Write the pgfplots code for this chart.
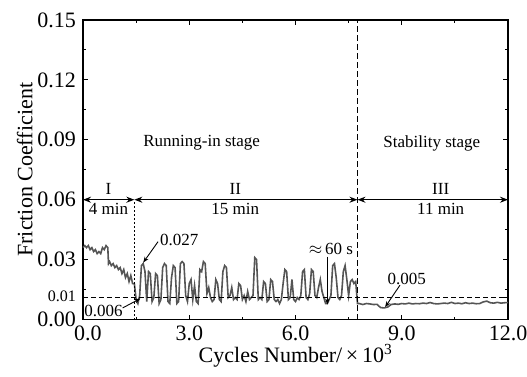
\documentclass[border=0pt]{standalone}
\usepackage{pgfplots}
\pgfplotsset{compat=1.18}
\usepackage{fontspec}
\setmainfont{Liberation Serif}
\usetikzlibrary{arrows.meta}
\definecolor{dataline}{HTML}{555555}
\begin{document}
\begin{tikzpicture}
\useasboundingbox (-83pt,-56.5pt) rectangle (444pt,319.5pt);
\begin{axis}[
  at={(0pt,0pt)}, anchor=south west,
  scale only axis, width=425pt, height=299.5pt,
  xmin=0, xmax=12, ymin=0, ymax=0.15,
  xtick={0,3,6,9,12}, ytick={0,0.03,0.06,0.09,0.12,0.15},
  xticklabels={\hspace*{10pt}0.0, 3.0, 6.0, 9.0, 12.0},
  minor x tick num=1, minor y tick num=1,
  extra y ticks={0.011}, extra y tick labels={0.01},
  extra y tick style={yticklabel style={/tikz/font=\fontsize{16}{17}\selectfont, /tikz/yshift=1.5pt}},
  major tick length=5pt, minor tick length=3pt,
  axis line style={line width=1.2pt}, tick style={line width=1pt, black},
  /pgf/number format/assume math mode=true,
  xticklabel style={/tikz/inner ysep=0pt, /tikz/yshift=-6.5pt},
  yticklabel style={/tikz/inner ysep=0pt, /tikz/inner xsep=3pt, /tikz/xshift=-4pt, /pgf/number format/fixed, /pgf/number format/fixed zerofill, /pgf/number format/precision=2},
  tick label style={/tikz/font=\fontsize{22}{23}\selectfont},
  scaled y ticks=false,
  xlabel={Cycles Number/\,×\,10\textsuperscript{3}},
  ylabel={Friction Coefficient},
  every axis x label/.style={at={(axis description cs:0.5,-0.1219)}, anchor=center, inner sep=0pt, font=\fontsize{22}{26}\selectfont},
  every axis y label/.style={at={(axis description cs:-0.137,0.5)}, rotate=90, anchor=center, font=\fontsize{22}{26}\selectfont},
  clip=false,
]
\addplot[dataline, line width=1.6pt] table {
x y
0.00 0.036
0.05 0.037
0.10 0.036
0.15 0.037
0.20 0.035
0.25 0.036
0.30 0.034
0.35 0.035
0.40 0.033
0.45 0.034
0.50 0.033
0.55 0.036
0.60 0.035
0.65 0.037
0.70 0.036
0.72 0.028
0.75 0.029
0.80 0.027
0.85 0.028
0.90 0.026
0.95 0.027
1.00 0.025
1.05 0.026
1.10 0.023
1.15 0.025
1.20 0.021
1.25 0.023
1.30 0.019
1.35 0.022
1.40 0.018
1.45 0.018
1.50 0.010
1.55 0.008
1.60 0.012
1.65 0.027
1.70 0.028
1.75 0.024
1.80 0.009
1.85 0.024
1.90 0.023
1.95 0.009
2.00 0.011
2.05 0.023
2.10 0.022
2.15 0.008
2.20 0.010
2.25 0.026
2.30 0.028
2.35 0.027
2.40 0.009
2.45 0.008
2.50 0.021
2.55 0.027
2.60 0.026
2.65 0.008
2.70 0.009
2.75 0.028
2.80 0.029
2.85 0.028
2.90 0.012
2.95 0.009
3.00 0.018
3.05 0.020
3.10 0.010
3.15 0.017
3.20 0.009
3.25 0.008
3.30 0.025
3.35 0.024
3.40 0.029
3.45 0.028
3.50 0.013
3.55 0.016
3.60 0.011
3.65 0.009
3.70 0.010
3.75 0.020
3.80 0.018
3.85 0.010
3.90 0.009
3.95 0.024
4.00 0.027
4.05 0.026
4.10 0.011
4.15 0.012
4.20 0.016
4.25 0.010
4.30 0.011
4.35 0.010
4.40 0.018
4.45 0.017
4.50 0.010
4.55 0.012
4.60 0.009
4.65 0.014
4.70 0.010
4.75 0.011
4.80 0.012
4.85 0.031
4.90 0.030
4.95 0.010
5.00 0.011
5.05 0.010
5.10 0.019
5.15 0.018
5.20 0.009
5.25 0.010
5.30 0.020
5.35 0.019
5.40 0.010
5.45 0.009
5.50 0.010
5.55 0.008
5.60 0.010
5.65 0.018
5.70 0.025
5.75 0.024
5.80 0.010
5.85 0.011
5.90 0.020
5.95 0.010
6.00 0.009
6.05 0.011
6.10 0.010
6.15 0.012
6.20 0.024
6.25 0.025
6.30 0.011
6.35 0.010
6.40 0.013
6.45 0.025
6.50 0.024
6.55 0.012
6.60 0.011
6.65 0.016
6.70 0.020
6.75 0.014
6.80 0.011
6.85 0.008
6.90 0.008
6.95 0.010
7.00 0.012
7.05 0.027
7.10 0.028
7.15 0.021
7.20 0.011
7.25 0.010
7.30 0.012
7.35 0.024
7.40 0.027
7.45 0.020
7.50 0.012
7.55 0.019
7.60 0.020
7.65 0.018
7.70 0.019
7.75 0.008
7.80 0.0080
7.90 0.0075
8.00 0.0080
8.10 0.0078
8.20 0.0075
8.30 0.0076
8.40 0.0060
8.50 0.0058
8.60 0.0062
8.70 0.0075
8.80 0.0078
8.90 0.0076
9.00 0.0080
9.10 0.0078
9.20 0.0082
9.30 0.0078
9.40 0.0080
9.50 0.0079
9.60 0.0082
9.70 0.0080
9.80 0.0085
9.90 0.0080
10.00 0.0078
10.10 0.0080
10.20 0.0082
10.30 0.0080
10.40 0.0086
10.50 0.0080
10.60 0.0082
10.70 0.0079
10.80 0.0084
10.90 0.0080
11.00 0.0082
11.10 0.0079
11.20 0.0080
11.30 0.0088
11.40 0.0092
11.50 0.0084
11.60 0.0082
11.70 0.0086
11.80 0.0082
11.90 0.0084
12.00 0.0085
};
% reference lines
\draw[line width=0.8pt, dash pattern=on 5pt off 3pt] (axis cs:0,0.011) -- (axis cs:12,0.011);
\draw[line width=0.8pt, dash pattern=on 2pt off 2pt] (axis cs:1.45,0) -- (axis cs:1.45,0.06);
\draw[line width=1.3pt, dash pattern=on 6pt off 3pt] (axis cs:7.75,0) -- (axis cs:7.75,0.15);
% stage arrows
\draw[{Stealth[length=8pt,width=6pt]}-{Stealth[length=8pt,width=6pt]}, line width=1.2pt] (axis cs:0,0.06) -- (axis cs:1.45,0.06);
\draw[{Stealth[length=8pt,width=6pt]}-{Stealth[length=8pt,width=6pt]}, line width=1.2pt] (axis cs:1.45,0.06) -- (axis cs:7.75,0.06);
\draw[{Stealth[length=8pt,width=6pt]}-{Stealth[length=8pt,width=6pt]}, line width=1.2pt] (axis cs:7.75,0.06) -- (axis cs:12,0.06);
\begin{scope}[every node/.style={font=\fontsize{17}{20}\selectfont, inner sep=0pt}]
\node at (axis cs:0.72,0.0655) {I};
\node at (axis cs:0.72,0.0555) {4 min};
\node at (axis cs:4.3,0.0655) {II};
\node at (axis cs:4.3,0.0555) {15 min};
\node at (axis cs:10.1,0.0655) {III};
\node at (axis cs:10.1,0.0555) {11 min};
\node at (axis cs:3.35,0.0883) {Running-in stage};
\node at (axis cs:9.85,0.0883) {Stability stage};
\node at (axis cs:2.72,0.0400) {0.027};
\node at (axis cs:0.58,0.0043) {0.006};
\node at (axis cs:7.0,0.0352) {$\approx$\,60 s};
\node at (axis cs:9.14,0.0205) {0.005};
\end{scope}
\draw[-{Stealth[length=6pt]}, line width=0.9pt] (axis cs:2.12,0.0390) -- (axis cs:1.70,0.0285);
\draw[-{Stealth[length=6pt]}, line width=0.9pt] (axis cs:1.12,0.0058) -- (axis cs:1.62,0.0105);
\draw[-{Stealth[length=6pt]}, line width=0.9pt] (axis cs:6.9,0.0315) -- (axis cs:6.9,0.0075);
\draw[-{Stealth[length=6pt]}, line width=0.9pt] (axis cs:8.95,0.0172) -- (axis cs:8.53,0.0062);
\end{axis}
\end{tikzpicture}
\end{document}
